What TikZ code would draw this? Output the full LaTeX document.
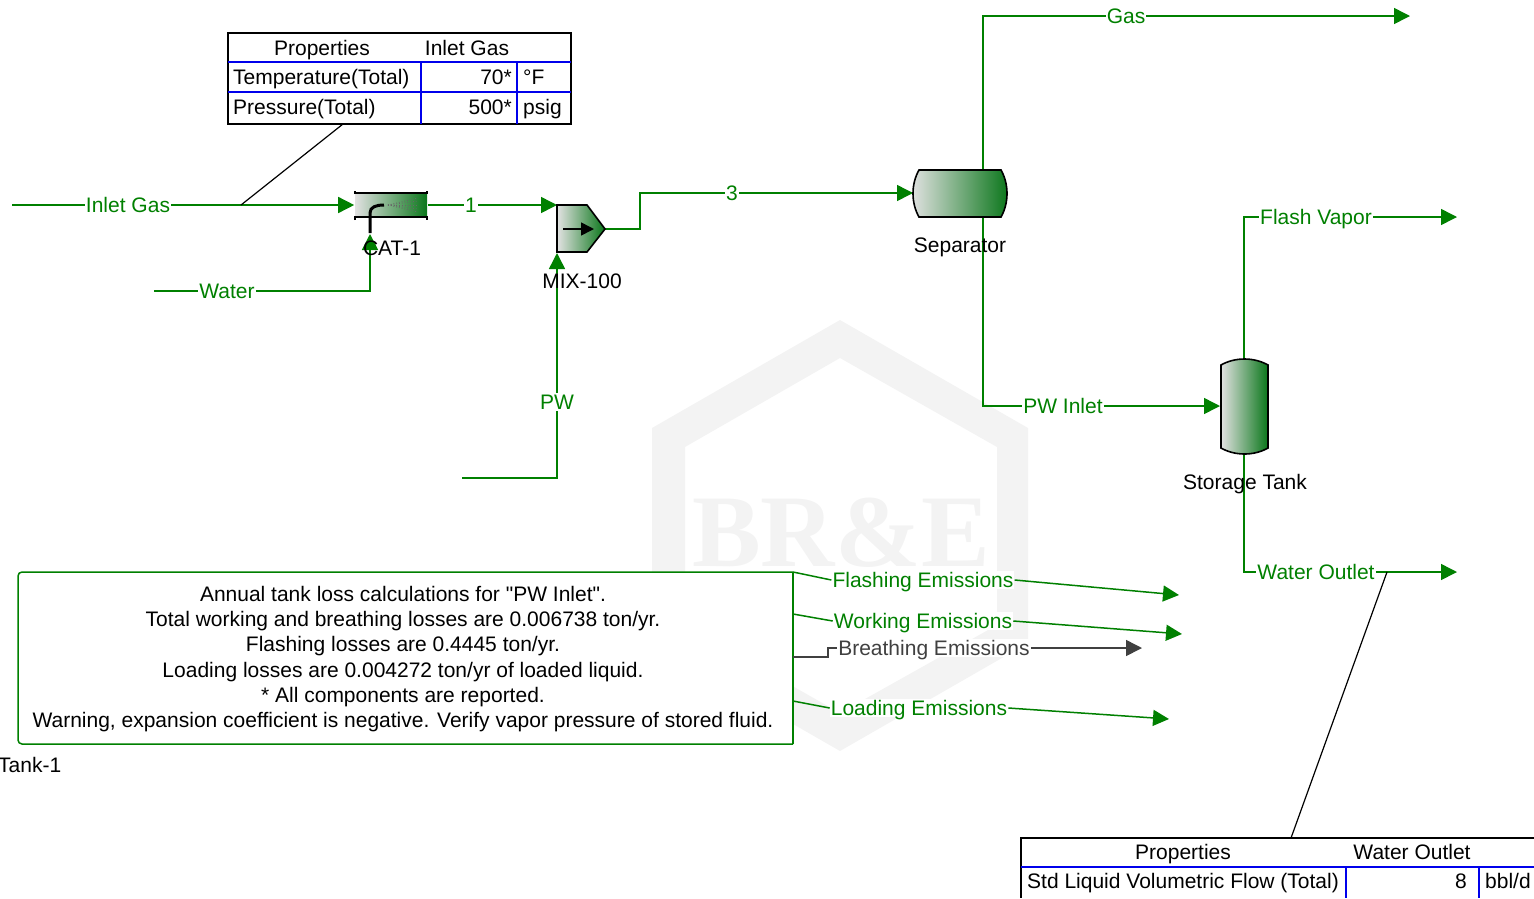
\documentclass[tikz,border=0pt]{standalone}
\usepackage{fontspec}
\setmainfont{Liberation Sans}
\newfontfamily\plainfont{Liberation Sans}
\newfontfamily\markfont{Liberation Serif}
\usetikzlibrary{arrows.meta}
\definecolor{figG}{RGB}{0,128,0}
\definecolor{figU}{RGB}{10,118,26}
\definecolor{figL}{RGB}{226,226,226}
\definecolor{figD}{RGB}{64,64,64}
\definecolor{figW}{RGB}{243,243,243}
\definecolor{figT}{RGB}{0,0,235}
\tikzset{
  stream/.style={figG,line width=1.5pt},
  feed/.style={stream,-{Triangle[length=16pt,width=16pt]}},
  vent/.style={figD,line width=1.5pt},
  unitbox/.style={draw=black,line width=1.6pt,left color=figL,middle color=figL!86!figU,right color=figU},
  txt/.style={font=\fontsize{21}{25}\selectfont,inner sep=0pt,text height=16.5pt,text depth=1.5pt},
  tag/.style={txt,text=figG,fill=white,inner xsep=1pt},
  rowline/.style={figT,line width=1.3pt},
  frame/.style={black,line width=1.1pt},
  leader/.style={black,line width=1.2pt}
}
\begin{document}
\begin{tikzpicture}[x=1pt,y=-1pt]
\useasboundingbox (0,0) rectangle (1534,898);
% watermark
\fill[figW,even odd rule] (840,320)--(1028,428)--(1028,643)--(840,751)--(652,643)--(652,428)--cycle
  (840,358)--(997,447)--(997,625)--(840,713)--(685,625)--(685,447)--cycle;
\node[text=figW,inner sep=0pt,font=\markfont\bfseries\fontsize{103}{103}\selectfont] (mark) at (841,533) {BR\&E};
% end points of the streams
\coordinate (inletin) at (12,205);
\coordinate (waterin) at (154,291);
\coordinate (waterbend) at (370,291);
\coordinate (waterend) at (370,236);
\coordinate (pwin) at (462,478);
\coordinate (pwbend) at (557,478);
\coordinate (mixin) at (557,253);
\coordinate (mixfeed) at (557,205);
\coordinate (mixout) at (605,229);
\coordinate (mixa) at (640,229);
\coordinate (mixb) at (640,193);
\coordinate (sepin) at (913,193);
\coordinate (septop) at (983,170);
\coordinate (sepbot) at (983,217);
\coordinate (gasbend) at (983,16);
\coordinate (gasout) at (1410,16);
\coordinate (pwbend2) at (983,406);
\coordinate (tankin) at (1220,406);
\coordinate (tanktop) at (1244,359);
\coordinate (tankbot) at (1244,454);
\coordinate (flashbend) at (1244,217);
\coordinate (flashout) at (1457,217);
\coordinate (outbend) at (1244,572);
\coordinate (outend) at (1457,572);
\coordinate (outtap) at (1387,572);
\coordinate (inlettap) at (241,205);
% streams
\node[tag] (inlettag) at (128,205) {Inlet Gas};
\node[tag] (watertag) at (227,291) {Water};
\node[tag] (onetag) at (471,205) {1};
\node[tag] (pwtag) at (557,402) {PW};
\node[tag] (threetag) at (732,193) {3};
\node[tag] (gastag) at (1126,16) {Gas};
\node[tag] (pwitag) at (1063,406) {PW Inlet};
\node[tag] (flashtag) at (1316,217) {Flash Vapor};
\node[tag] (outtag) at (1316,572) {Water Outlet};
\node[unitbox,draw=none,minimum width=72pt,minimum height=24pt,inner sep=0pt] (cat) at (391,205) {};
\draw[stream] (inletin) -- (inlettag);
\draw[feed] (inlettag) -- (cat.west);
\draw[stream] (waterin) -- (watertag);
\draw[stream] (watertag) -- (waterbend) -- (waterend);
\draw[stream] (cat.east) -- (onetag);
\draw[feed] (onetag) -- (mixfeed);
\draw[stream] (pwin) -- (pwbend) -- (pwtag);
\draw[feed] (pwtag) -- (mixin);
\draw[stream] (mixout) -- (mixa) -- (mixb) -- (threetag);
\draw[feed] (threetag) -- (sepin);
\draw[stream] (septop) -- (gasbend) -- (gastag);
\draw[feed] (gastag) -- (gasout);
\draw[stream] (sepbot) -- (pwbend2) -- (pwitag);
\draw[feed] (pwitag) -- (tankin);
\draw[stream] (tanktop) -- (flashbend) -- (flashtag);
\draw[feed] (flashtag) -- (flashout);
\draw[stream] (tankbot) -- (outbend) -- (outtag);
\draw[feed] (outtag) -- (outend);
% CAT-1
\draw[black,line width=1.6pt] (355,191)--(355,193)--(427,193)--(427,191);
\draw[black,line width=1.6pt] (355,220)--(355,217)--(427,217)--(427,220);
\foreach \yy in {198,201,205,209,212}
  \draw[black!55!figL,line width=.8pt,dotted] (388,205)--(418,\yy);
\draw[black,line width=3pt] (370,233)--(370,213) .. controls (370,207) and (376,205) .. (384,205);
\draw[-{Triangle[length=16pt,width=16pt]},figG,line width=1.5pt] (370,250)--(370,234);
% MIX-100
\draw[unitbox] (557,205)--(587,205)--(605,229)--(587,252)--(557,252)--cycle;
\draw[black,line width=1.6pt,-{Triangle[length=13pt,width=13pt]}] (563,229)--(594,229);
% Separator and tank
\draw[unitbox] (919,170)--(1001,170) .. controls (1009,184) and (1009,203) .. (1001,217)--(919,217) .. controls (911,203) and (911,184) .. (919,170)--cycle;
\draw[unitbox] (1221,365) .. controls (1235,357) and (1254,357) .. (1268,365)--(1268,448) .. controls (1254,456) and (1235,456) .. (1221,448)--cycle;
% unit names
\node[txt] (catname) at (392,248) {CAT-1};
\node[txt] (mixname) at (582,281) {MIX-100};
\node[txt] (sepname) at (960,245) {Separator};
\node[txt] (tankname) at (1245,482) {Storage Tank};
\node[txt,anchor=west] (tankone) at (-2,765) {Tank-1};
% note box
\draw[figG,line width=1.5pt,rounded corners=4pt,fill=white] (793,572)--(18,572)--(18,744)--(793,744);
\draw[figG,line width=1.5pt] (793,572)--(793,744);
\node[font=\fontsize{21}{25.2}\selectfont,align=center,inner sep=0pt] (note) at (403,659) {Annual tank loss calculations for {\plainfont"}PW Inlet{\plainfont"}.\\
Total working and breathing losses are 0.006738 ton/yr.\\
Flashing losses are 0.4445 ton/yr.\\
Loading losses are 0.004272 ton/yr of loaded liquid.\\
* All components are reported.\\
Warning, expansion coefficient is negative. Verify vapor pressure of stored fluid.};
% emissions
\coordinate (flashbox) at (793,572);
\coordinate (workbox) at (793,614);
\coordinate (breathbox) at (793,657);
\coordinate (loadbox) at (793,701);
\coordinate (breathbenda) at (828,657);
\coordinate (breathbendb) at (828,648);
\coordinate (flashend) at (1179,595);
\coordinate (workend) at (1182,634);
\coordinate (breathend) at (1142,648);
\coordinate (loadend) at (1169,719);
\node[tag] (flashem) at (923,580) {Flashing Emissions};
\node[tag] (workem) at (923,621) {Working Emissions};
\node[tag,text=figD] (breathem) at (934,648) {Breathing Emissions};
\node[tag] (loadem) at (919,708) {Loading Emissions};
\draw[stream] (flashbox) -- (flashem.west);
\draw[feed] (flashem.east) -- (flashend);
\draw[stream] (workbox) -- (workem.west);
\draw[feed] (workem.east) -- (workend);
\draw[vent] (breathbox) -- (breathbenda) -- (breathbendb) -- (breathem.west);
\draw[vent,-{Triangle[length=16pt,width=16pt]}] (breathem.east) -- (breathend);
\draw[stream] (loadbox) -- (loadem.west);
\draw[feed] (loadem.east) -- (loadend);
% inlet table
\draw[leader] (inlettap) -- (343,124);
\draw[frame] (228,33) rectangle (571,124);
\draw[rowline] (228,62)--(571,62);
\draw[rowline] (228,92)--(571,92);
\draw[rowline] (421,62)--(421,124);
\draw[rowline] (517,62)--(517,124);
\node[txt] (tapropa) at (322,47.5) {Properties};
\node[txt] (tapropb) at (467,47.5) {Inlet Gas};
\node[txt,anchor=west] (tatemp) at (233,76.5) {Temperature(Total)};
\node[txt,anchor=east] (tatempv) at (512,76.5) {70*};
\node[txt,anchor=west] (tatempu) at (523,76.5) {°F};
\node[txt,anchor=west] (tapres) at (233,106.5) {Pressure(Total)};
\node[txt,anchor=east] (tapresv) at (512,106.5) {500*};
\node[txt,anchor=west] (tapresu) at (523,106.5) {psig};
% outlet table
\draw[leader] (outtap) -- (1291,838);
\draw[frame] (1534,838)--(1021,838)--(1021,898);
\draw[rowline] (1021,867)--(1534,867);
\draw[rowline] (1346,867)--(1346,898);
\draw[rowline] (1479,867)--(1479,898);
\node[txt] (tbpropa) at (1183,851.5) {Properties};
\node[txt] (tbpropb) at (1412,851.5) {Water Outlet};
\node[txt,anchor=west] (tbflow) at (1027,880.5) {Std Liquid Volumetric Flow (Total)};
\node[txt,anchor=east] (tbflowv) at (1467,880.5) {8};
\node[txt,anchor=west] (tbflowu) at (1485,880.5) {bbl/d};
\end{tikzpicture}
\end{document}
